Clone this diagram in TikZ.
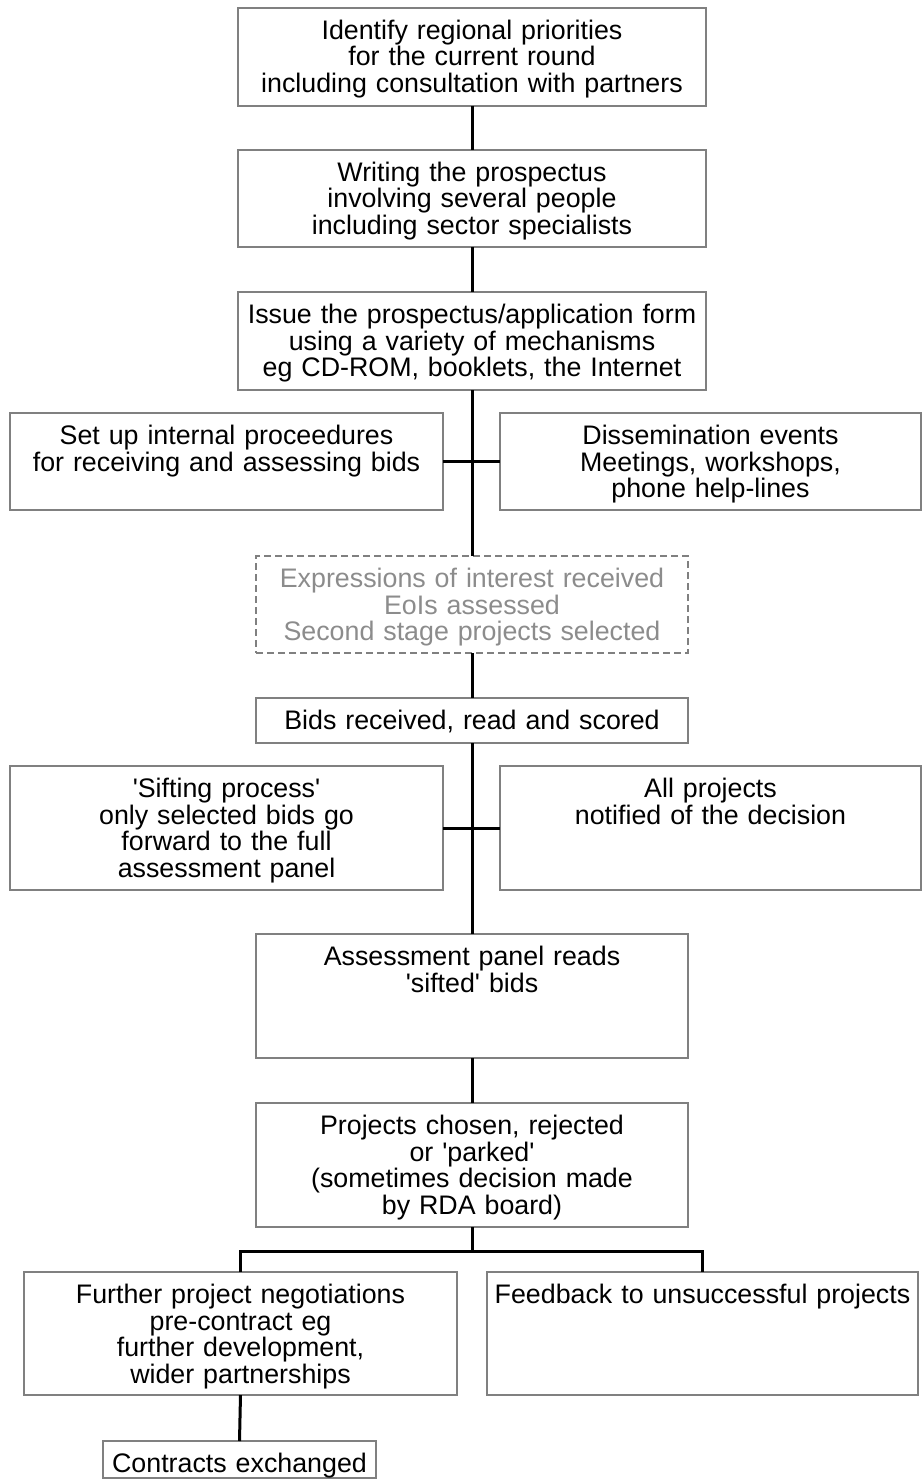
\documentclass[tikz,border=0pt]{standalone}
\usepackage{fontspec}
\setmainfont{Liberation Sans}[Ligatures=TeXOff]
\usepackage{tikz}
\definecolor{boxgray}{RGB}{128,128,128}
\definecolor{eoigray}{RGB}{140,140,140}
\newcommand\boxfont{\fontsize{26.8}{26.5}\selectfont}
\tikzset{
  stepbox/.style={draw=boxgray, line width=2.5pt, inner sep=0pt, outer sep=0pt,
    align=center, font=\boxfont, text height=31.5pt, anchor=north west},
  eoibox/.style={stepbox, dash pattern=on 7pt off 4pt, text=eoigray},
  link/.style={line width=3pt, black}
}

\begin{document}
\begin{tikzpicture}[x=1pt, y=-1pt]
			%%%%% START %%%%%
			\useasboundingbox (0, 0) rectangle (922, 1479);

			\node[stepbox, text width=468pt, text depth=66.5pt] (id) at (238, 8) {Identify regional priorities\\for the current round\\including consultation with partners};
			\node[stepbox, text width=468pt, text depth=65.5pt] (writing) at (238, 150) {Writing the prospectus\\involving several people\\including sector specialists};
			\node[stepbox, text width=468pt, text depth=66.5pt] (issue) at (238, 292) {Issue the prospectus/application form\\using a variety of mechanisms\\eg CD-ROM, booklets, the Internet};

			\node[stepbox, text width=433pt, text depth=65.5pt] (setup) at (10, 413) {Set up internal proceedures\\for receiving and assessing bids};
			\node[stepbox, text width=421pt, text depth=65.5pt] (dissem) at (500, 413) {Dissemination events\\Meetings, workshops,\\phone help-lines};

			\node[eoibox, text width=432pt, text depth=65.5pt] (eoi) at (256, 556) {Expressions of interest received\\EoIs assessed\\Second stage projects selected};
			\node[stepbox, text width=432pt, text depth=13.5pt] (bids) at (256, 698) {Bids received, read and scored};

			\node[stepbox, text width=433pt, text depth=92.5pt] (sift) at (10, 766) {'Sifting process'\\only selected bids go\\forward to the full\\assessment panel};
			\node[stepbox, text width=421pt, text depth=92.5pt] (notify) at (500, 766) {All projects\\notified of the decision};

			\node[stepbox, text width=432pt, text depth=92.5pt] (panel) at (256, 934) {Assessment panel reads\\'sifted' bids};
			\node[stepbox, text width=432pt, text depth=92.5pt] (chosen) at (256, 1103) {Projects chosen, rejected\\or 'parked'\\(sometimes decision made\\by RDA board)};

			\node[stepbox, text width=433pt, text depth=91.5pt] (negot) at (24, 1272) {Further project negotiations\\pre-contract eg\\further development,\\wider partnerships};
			\node[stepbox, text width=431pt, text depth=91.5pt] (feedback) at (487, 1272) {Feedback to unsuccessful projects};
			\node[stepbox, text width=273pt, text depth=5.5pt] (contracts) at (103, 1441) {Contracts exchanged};

			% main spine
			\draw[link] (id.south) -- (writing.north);
			\draw[link] (writing.south) -- (issue.north);
			\draw[link] (issue.south) -- (eoi.north);
			\draw[link] (setup.east) -- (dissem.west);
			\draw[link] (eoi.south) -- (bids.north);
			\draw[link] (bids.south) -- (panel.north);
			\draw[link] (sift.east) -- (notify.west);
			\draw[link] (panel.south) -- (chosen.north);

			% fork to outcomes
			\coordinate (fork) at (472, 1251);
			\draw[link] (chosen.south) -- (fork);
			\draw[link] (negot.north) -- (negot.north |- fork) -- (feedback.north |- fork) -- (feedback.north);
			\draw[link] (negot.south) -- (contracts.north);
			%%%%% END %%%%%
\end{tikzpicture}
\end{document}
